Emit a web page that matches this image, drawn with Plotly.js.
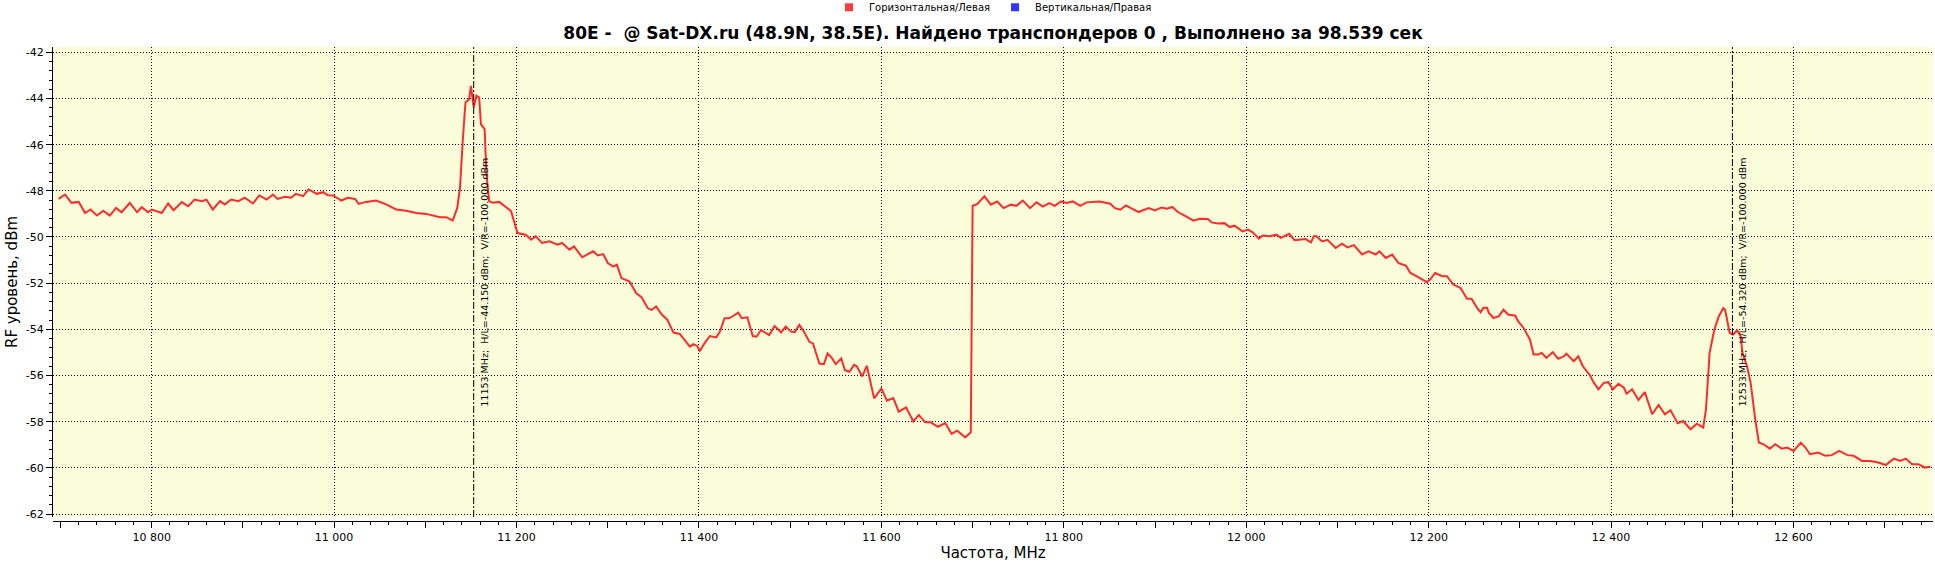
<!DOCTYPE html>
<html>
<head>
<meta charset="utf-8">
<script src="https://cdn.plot.ly/plotly-3.0.1.min.js"></script>
<style>
  html, body { margin: 0; padding: 0; background: #fff; }
  #chart { width: 1935px; height: 567px; }
</style>
</head>
<body>
<div id="chart"></div>
<script>
// sweep readings (MHz / dBm)
const freqMHz = [
  10698, 10705, 10712, 10720, 10727, 10733, 10740, 10747, 10754, 10761,
  10767, 10776, 10784, 10789, 10796, 10800, 10811, 10818, 10824, 10833,
  10840, 10847, 10855, 10860, 10867, 10875, 10880, 10887, 10895, 10902,
  10911, 10918, 10926, 10933, 10938, 10946, 10953, 10958, 10966, 10972,
  10981, 10988, 10993, 10999, 11008, 11015, 11023, 11027, 11035, 11046,
  11057, 11068, 11079, 11090, 11101, 11108, 11116, 11123, 11130, 11135,
  11138, 11141, 11144, 11148, 11150, 11153, 11156, 11159, 11161, 11165,
  11167, 11170, 11174, 11181, 11188, 11194, 11201, 11210, 11216, 11221,
  11228, 11236, 11245, 11250, 11258, 11263, 11272, 11279, 11284, 11289,
  11295, 11300, 11306, 11310, 11315, 11324, 11331, 11337, 11344, 11348,
  11353, 11359, 11365, 11372, 11379, 11390, 11394, 11398, 11401, 11406,
  11412, 11419, 11423, 11428, 11433, 11439, 11443, 11447, 11453, 11459,
  11463, 11468, 11477, 11483, 11490, 11495, 11501, 11505, 11510, 11515,
  11521, 11525, 11532, 11537, 11541, 11546, 11550, 11556, 11560, 11565,
  11570, 11573, 11579, 11584, 11587, 11592, 11600, 11606, 11613, 11619,
  11627, 11635, 11641, 11648, 11654, 11662, 11670, 11677, 11683, 11692,
  11698, 11700, 11705, 11713, 11720, 11727, 11734, 11742, 11748, 11755,
  11763, 11770, 11777, 11784, 11790, 11797, 11803, 11810, 11818, 11825,
  11839, 11851, 11856, 11862, 11868, 11874, 11882, 11893, 11900, 11907,
  11913, 11919, 11925, 11934, 11942, 11949, 11958, 11962, 11969, 11976,
  11982, 11987, 11996, 12002, 12007, 12014, 12018, 12026, 12033, 12038,
  12047, 12053, 12060, 12065, 12071, 12074, 12077, 12083, 12089, 12098,
  12105, 12111, 12118, 12127, 12134, 12142, 12146, 12153, 12160, 12167,
  12175, 12180, 12189, 12198, 12202, 12207, 12215, 12220, 12227, 12235,
  12242, 12247, 12253, 12257, 12260, 12264, 12266, 12271, 12277, 12282,
  12287, 12295, 12298, 12304, 12311, 12315, 12320, 12324, 12329, 12336,
  12342, 12348, 12351, 12355, 12359, 12364, 12369, 12377, 12380, 12386,
  12392, 12397, 12402, 12408, 12414, 12417, 12423, 12430, 12437, 12445,
  12452, 12459, 12465, 12473, 12479, 12487, 12494, 12501, 12504, 12508,
  12513, 12518, 12523, 12525, 12530, 12534, 12538, 12542, 12544, 12549,
  12553, 12558, 12562, 12567, 12574, 12580, 12587, 12593, 12600, 12608,
  12613, 12618, 12627, 12635, 12642, 12650, 12659, 12666, 12675, 12684,
  12693, 12701, 12710, 12717, 12723, 12730, 12737, 12744, 12750
];

const levelHL = [
  -48.35, -48.16, -48.52, -48.48, -48.96, -48.81, -49.07, -48.86, -49.07, -48.74,
  -48.93, -48.52, -48.93, -48.71, -48.93, -48.81, -48.96, -48.55, -48.84, -48.49,
  -48.67, -48.38, -48.45, -48.38, -48.81, -48.45, -48.59, -48.38, -48.45, -48.30,
  -48.55, -48.20, -48.38, -48.16, -48.35, -48.26, -48.30, -48.13, -48.23, -47.94,
  -48.13, -48.06, -48.19, -48.20, -48.42, -48.30, -48.35, -48.57, -48.48, -48.42,
  -48.59, -48.81, -48.86, -48.96, -49.00, -49.07, -49.14, -49.14, -49.29, -48.74,
  -47.87, -45.84, -44.17, -44.03, -43.45, -44.39, -43.88, -43.96, -45.12, -45.33,
  -47.29, -48.45, -48.52, -48.48, -48.71, -48.88, -49.83, -49.90, -50.12, -49.97,
  -50.26, -50.19, -50.33, -50.26, -50.55, -50.41, -50.88, -50.72, -50.62, -50.80,
  -50.74, -51.13, -51.28, -51.20, -51.78, -51.93, -52.43, -52.61, -53.09, -53.16,
  -53.01, -53.35, -53.57, -54.14, -54.20, -54.75, -54.64, -54.72, -54.93, -54.61,
  -54.29, -54.35, -54.10, -53.52, -53.52, -53.38, -53.28, -53.52, -53.48, -54.29,
  -54.32, -54.03, -54.25, -53.86, -54.14, -53.88, -54.10, -54.12, -53.81, -54.10,
  -54.54, -54.61, -55.48, -55.51, -55.04, -55.26, -55.51, -55.26, -55.77, -55.84,
  -55.54, -55.60, -56.04, -55.58, -56.09, -56.99, -56.56, -57.09, -56.98, -57.57,
  -57.38, -57.99, -57.71, -58.03, -58.03, -58.22, -58.06, -58.53, -58.39, -58.68,
  -58.46, -48.65, -48.58, -48.24, -48.60, -48.46, -48.75, -48.60, -48.65, -48.42,
  -48.75, -48.50, -48.68, -48.53, -48.65, -48.46, -48.53, -48.46, -48.65, -48.50,
  -48.46, -48.56, -48.75, -48.82, -48.63, -48.75, -48.92, -48.75, -48.85, -48.72,
  -48.78, -48.70, -48.92, -49.11, -49.29, -49.21, -49.22, -49.37, -49.42, -49.40,
  -49.57, -49.51, -49.76, -49.68, -49.80, -50.07, -49.94, -49.97, -49.90, -50.04,
  -49.86, -50.14, -50.12, -50.09, -50.23, -49.97, -49.97, -50.19, -50.12, -50.48,
  -50.29, -50.45, -50.35, -50.76, -50.62, -50.76, -50.62, -50.91, -50.76, -51.13,
  -51.24, -51.56, -51.75, -51.96, -51.82, -51.56, -51.70, -51.70, -52.06, -52.21,
  -52.68, -52.68, -53.07, -53.26, -53.07, -53.07, -53.29, -53.51, -53.43, -53.15,
  -53.36, -53.41, -53.65, -53.94, -54.44, -55.09, -55.09, -55.02, -55.24, -54.99,
  -55.28, -55.17, -55.05, -55.24, -55.38, -55.17, -55.60, -56.00, -56.24, -56.60,
  -56.32, -56.29, -56.60, -56.36, -56.53, -56.79, -56.60, -57.06, -56.72, -57.68,
  -57.28, -57.68, -57.50, -58.07, -57.97, -58.33, -58.09, -58.26, -57.47, -55.02,
  -54.04, -53.44, -53.08, -53.15, -54.16, -54.23, -54.04, -54.30, -55.02, -55.60,
  -56.32, -57.90, -58.90, -58.98, -59.17, -58.98, -59.17, -59.12, -59.27, -58.91,
  -59.12, -59.41, -59.34, -59.48, -59.45, -59.27, -59.45, -59.48, -59.70, -59.70,
  -59.77, -59.88, -59.60, -59.70, -59.60, -59.84, -59.84, -59.99, -59.95
];

// vertical / right polarisation: nothing measured in this scan
const freqVR = [];
const levelVR = [];

// cursor markers
const markerFreqs = [11153, 12533];
const markerHL = [-44.150, -54.320];
const markerVR = [-100.000, -100.000];

const yTickVals = [-42, -44, -46, -48, -50, -52, -54, -56, -58, -60, -62];
const yTickLabels = ['-42', '-44', '-46', '-48', '-50', '-52', '-54', '-56', '-58', '-60', '-62'];
const xTickVals = [10800, 11000, 11200, 11400, 11600, 11800, 12000, 12200, 12400, 12600];
const xTickLabels = ['10 800', '11 000', '11 200', '11 400', '11 600', '11 800', '12 000', '12 200', '12 400', '12 600'];
const xHalfTicks = [10700, 10900, 11100, 11300, 11500, 11700, 11900, 12100, 12300, 12500, 12700];

const chartTitle = '80E -\u00a0\u00a0@ Sat-DX.ru (48.9N, 38.5E). Найдено транспондеров 0 , Выполнено за 98.539 сек';

const xRange = [10691.8, 12752.9];
const yRange = [-62.13, -41.77];
const font = 'DejaVu Sans, Verdana, sans-serif';

const traces = [
  {
    x: freqMHz, y: levelHL,
    type: 'scatter', mode: 'lines',
    line: { color: '#ff2b2b', width: 2 },
    showlegend: false,
    hoverinfo: 'x+y'
  },
  {
    x: [null], y: [null],
    type: 'scatter', mode: 'markers',
    marker: { symbol: 'square', size: 8, color: '#ff3b3b' },
    name: 'Горизонтальная/Левая'
  },
  {
    x: freqVR.length ? freqVR : [null], y: levelVR.length ? levelVR : [null],
    xaxis: 'x2',
    type: 'scatter', mode: 'markers',
    marker: { symbol: 'square', size: 8, color: '#3333ff' },
    name: 'Вертикальная/Правая'
  }
];

const shapes = markerFreqs.map(f => ({
  type: 'line', xref: 'x', yref: 'y domain',
  x0: f, x1: f, y0: 0, y1: 1,
  line: { color: '#000', width: 1, dash: '7px,2px,2px,2px' }
}));

const annotations = markerFreqs.map((f, i) => ({
  xref: 'x', yref: 'y domain',
  x: f, y: 0.5,
  xshift: 10,
  textangle: -90,
  showarrow: false,
  text: f + ' MHz;  H/L=' + markerHL[i].toFixed(3) + ' dBm;  V/R=' + markerVR[i].toFixed(3) + ' dBm',
  font: { family: font, size: 9.5, color: '#000' }
}));

const layout = {
  width: 1935, height: 567,
  margin: { l: 53, r: 2, t: 47, b: 46, autoexpand: false },
  paper_bgcolor: '#ffffff',
  plot_bgcolor: '#fafdda',
  font: { family: font, size: 11, color: '#000' },
  title: {
    text: chartTitle,
    font: { family: font, size: 17, color: '#000', weight: 'bold' },
    xref: 'paper', x: 0.5, xanchor: 'center',
    yref: 'container', y: 1 - 33 / 567, yanchor: 'middle'
  },
  showlegend: true,
  legend: {
    orientation: 'h',
    x: 0.5, xanchor: 'center',
    y: 1.084, yanchor: 'middle',
    font: { family: font, size: 10, color: '#000' },
    itemwidth: 30,
    bgcolor: 'rgba(0,0,0,0)'
  },
  xaxis: {
    range: xRange,
    anchor: 'free', position: 0,
    tickmode: 'array', tickvals: xTickVals, ticktext: xTickLabels,
    ticks: 'outside', ticklen: 6, tickcolor: '#000', tickwidth: 1,
    showline: true, linecolor: '#000', linewidth: 1,
    showgrid: true, gridcolor: '#000', gridwidth: 1, griddash: '1px,2px',
    zeroline: false,
    tickfont: { family: font, size: 11, color: '#000' },
    minor: { dtick: 20, tick0: 10700, ticks: 'outside', ticklen: 3, tickcolor: '#000', showgrid: false },
    title: { text: 'Частота, MHz', font: { family: font, size: 15, color: '#000' }, standoff: 4 }
  },
  xaxis2: {
    range: xRange,
    overlaying: 'x',
    anchor: 'free', position: 0, side: 'bottom',
    tickmode: 'array', tickvals: xHalfTicks,
    ticks: 'outside', ticklen: 6, tickcolor: '#000',
    showticklabels: false, showgrid: false, showline: false, zeroline: false
  },
  yaxis: {
    range: yRange,
    domain: [4 / 474, 1],
    tickmode: 'array', tickvals: yTickVals, ticktext: yTickLabels,
    ticks: 'outside', ticklen: 6, tickcolor: '#000', tickwidth: 1,
    showline: true, linecolor: '#000', linewidth: 1,
    showgrid: true, gridcolor: '#000', gridwidth: 1, griddash: '1px,2px',
    zeroline: false,
    tickfont: { family: font, size: 11, color: '#000' },
    minor: { dtick: 0.4, tick0: -42, ticks: 'outside', ticklen: 3, tickcolor: '#000', showgrid: false },
    title: { text: 'RF уровень, dBm', font: { family: font, size: 15, color: '#000' }, standoff: 4 }
  },
  shapes: shapes,
  annotations: annotations
};

Plotly.newPlot('chart', traces, layout, { displayModeBar: false, staticPlot: true });
</script>
</body>
</html>
